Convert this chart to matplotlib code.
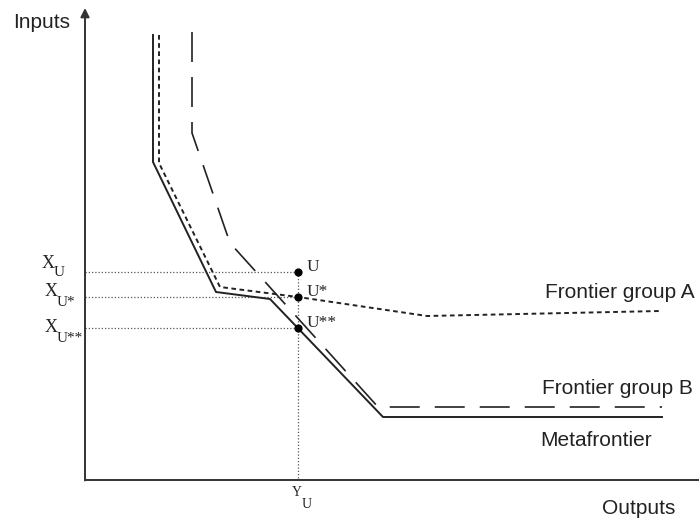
import matplotlib
matplotlib.use('Agg')
import matplotlib.pyplot as plt

plt.rcParams['font.family'] = ['Liberation Sans', 'DejaVu Sans']

# curves, in picture coordinates (x to the right, y downwards)
meta_x = [153, 153, 216, 270, 383, 662]
meta_y = [35, 162, 292, 299, 417, 417]
grpA_x = [159, 159, 220, 298, 427, 660]
grpA_y = [35, 163, 287, 297, 316, 311]
grpB_x = [192, 192, 230, 378, 662]
grpB_y = [32, 133, 243, 407, 407]

# observed unit and its projections
u_x = 298
u_y = [272, 297, 328]
u_names = ['U', 'U*', 'U**']
x_subs = ['U', 'U*', 'U**']
x_left = [42, 45, 45]
x_top = [263, 292, 328]

x0, y0 = 85, 480

fig = plt.figure(figsize=(6.99, 5.21), dpi=100)
ax = fig.add_axes([0, 0, 1, 1])
ax.set_xlim(0, 699)
ax.set_ylim(521, 0)
ax.axis('off')

# axes
ax.plot([x0, 699], [y0, y0], color='#333333', lw=1.4, solid_capstyle='butt')
ax.annotate('', xy=(x0, 8), xytext=(x0, y0 + 0.5),
            arrowprops=dict(arrowstyle='-|>', color='#333333', lw=1.4,
                            mutation_scale=13, shrinkA=0, shrinkB=0))

# guide lines
for yy in u_y:
    ax.plot([x0, u_x], [yy, yy], color='#555555', lw=0.9, ls=(0, (1, 1.6)))
ax.plot([u_x, u_x], [u_y[0], y0], color='#555555', lw=0.9, ls=(0, (1, 1.6)))

# frontiers
ax.plot(meta_x, meta_y, color='#222222', lw=1.4)
ax.plot(grpA_x, grpA_y, color='#222222', lw=1.4, ls=(0, (2.4, 1.8)))
ax.plot(grpB_x, grpB_y, color='#222222', lw=1.2, ls=(0, (18, 9)))

ax.scatter([u_x] * 3, u_y, s=24, color='black', zorder=5)

serif = 'Liberation Serif'
for yy, nm in zip(u_y, u_names):
    ax.text(u_x + 9, yy - 5, nm, family=serif, fontsize=12.5,
            color='#222222', ha='left', va='center')
for xl, yt, sb in zip(x_left, x_top, x_subs):
    ax.text(xl, yt, 'X', family=serif, fontsize=13, color='#222222',
            ha='left', va='center')
    ax.text(xl + 12, yt + 10, sb, family=serif, fontsize=11, color='#222222',
            ha='left', va='center')
ax.text(292, 492, 'Y', family=serif, fontsize=10, color='#222222',
        ha='left', va='center')
ax.text(302, 504, 'U', family=serif, fontsize=10, color='#222222',
        ha='left', va='center')

ax.text(13, 22, 'Inputs', fontsize=15, color='#222222', ha='left', va='center')
ax.text(602, 508, 'Outputs', fontsize=15, color='#222222', ha='left', va='center')
ax.text(545, 292, 'Frontier group A', fontsize=15, color='#222222', ha='left', va='center')
ax.text(542, 388, 'Frontier group B', fontsize=15, color='#222222', ha='left', va='center')
ax.text(540, 440, 'Metafrontier', fontsize=15, color='#222222', ha='left', va='center')

fig.savefig('out.png', dpi=100)
